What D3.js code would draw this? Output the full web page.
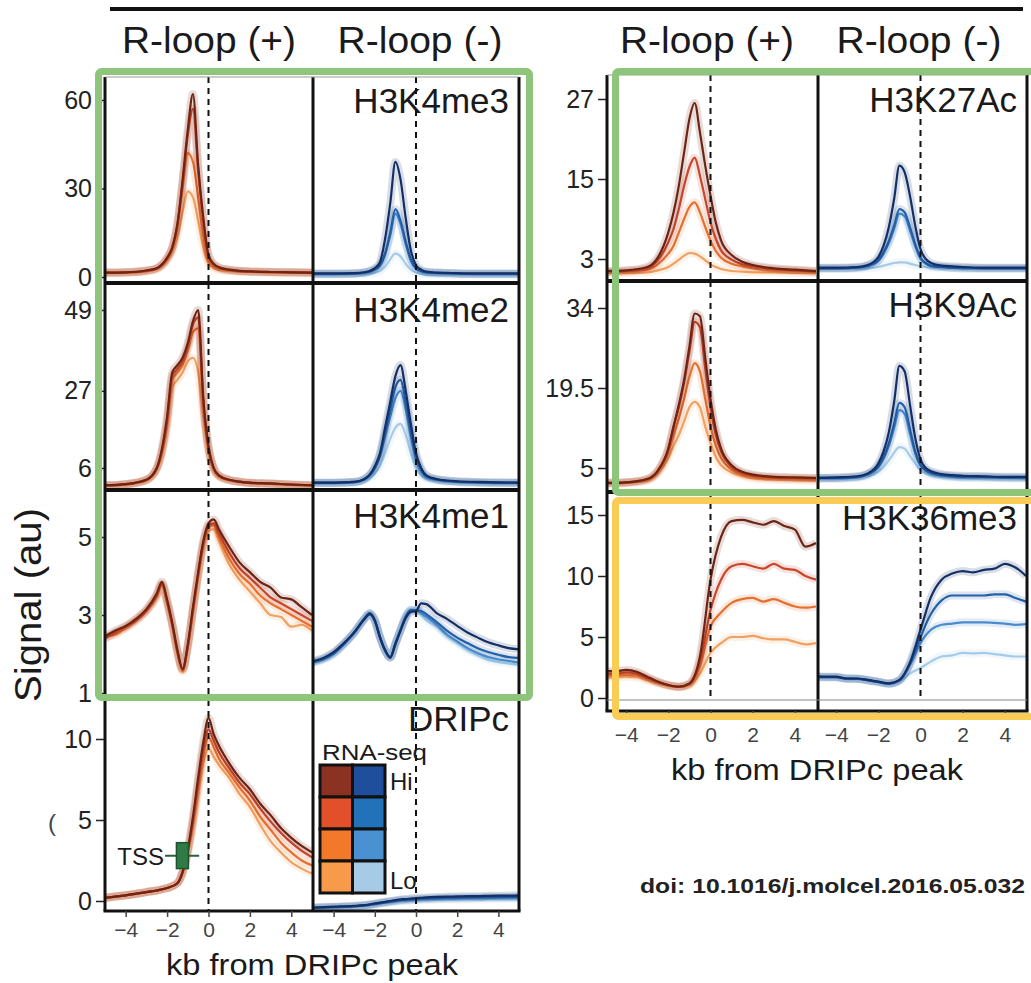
<!DOCTYPE html>
<html><head><meta charset="utf-8">
<script src="https://cdn.jsdelivr.net/npm/d3@7"></script>
<style>
body{margin:0;background:#fff;}
svg{display:block;}
text{font-family:"Liberation Sans",Arial,Helvetica,sans-serif;}
</style>
</head><body>
<svg id="chart" width="1031" height="983"></svg>
<script>
// ---------------- DATA ----------------
const kbPeak = [-5,-4,-3,-2.5,-2,-1.75,-1.5,-1.25,-1,-0.75,-0.5,-0.25,0,0.25,0.5,1,1.5,2,3,4,5];
const kbMe1  = [-5,-4.5,-4,-3.5,-3,-2.5,-2.25,-2,-1.75,-1.5,-1.25,-1,-0.75,-0.5,-0.25,0,0.25,0.5,1,1.5,2,2.5,3,3.5,4,4.5,5];
const kbDrip = [-5,-4,-3,-2.5,-2,-1.5,-1.25,-1,-0.75,-0.5,-0.25,0,0.25,0.5,1,1.5,2,2.5,3,3.5,4,4.5,5];
const kbK36  = [-5,-4.5,-4,-3.5,-3,-2.5,-2,-1.5,-1,-0.5,0,0.5,1,1.5,2,2.5,3,3.5,4,4.5,5];

const xTicks = [-4,-2,0,2,4];
const rnaLevels = ["Hi","","","Lo"];

// series order: RNA-seq Hi -> Lo
const h3k4me3Pos = [
 [1.5,1.6,2.2,3,6.5,10,18,33,50,62,38,20,7.5,4.5,3.3,2.5,2.1,1.9,1.7,1.6,1.5],
 [1.5,1.6,2.2,3,6.5,10,18,32,48,57,36,19,7,4.3,3.2,2.4,2,1.9,1.7,1.6,1.5],
 [1.4,1.5,2,2.8,6,9.5,17,30,42,39,27,14,5.5,3.6,2.8,2.2,1.9,1.8,1.6,1.5,1.4],
 [1.3,1.4,1.9,2.6,5.5,8.5,14,22,29,27,19,10,4.5,3,2.4,2,1.8,1.7,1.5,1.4,1.3]];
const h3k4me3Neg = [
 [1.2,1.2,1.3,1.6,3,5,13,25,39,33,20,9,4,2.5,1.8,1.5,1.4,1.3,1.2,1.2,1.2],
 [1.1,1.1,1.2,1.5,2.6,4,8,15,23,19,12,6,3,2,1.6,1.4,1.3,1.2,1.1,1.1,1.1],
 [1,1,1.1,1.4,2.4,3.8,7.5,14,21.5,18,11,5.5,2.8,1.9,1.5,1.3,1.2,1.1,1,1,1],
 [0.8,0.8,0.9,1,1.5,2,3.5,6,8,7,4.5,2.5,1.5,1.1,0.9,0.8,0.8,0.8,0.8,0.8,0.8]];
const h3k4me2Pos = [
 [1.3,1.6,2.8,6,20,32,34,36,40,46,49,25,12,6,4,2.8,2.3,2,1.8,1.5,1.3],
 [1.3,1.6,2.8,6,19,31,33,35,39,45,47,24,11.5,6,4,2.8,2.3,2,1.8,1.5,1.3],
 [1.2,1.5,2.7,5.8,18,30,32,34,38,43,44,23,11,5.7,3.8,2.7,2.2,1.9,1.7,1.4,1.2],
 [1.2,1.5,2.6,5.5,17,28,30,32,35,36,32,20,10,5.3,3.6,2.6,2.1,1.9,1.7,1.4,1.2]];
const h3k4me2Neg = [
 [2,2,2.2,3,6.5,10,17,24,31,34,27,18,10,6,4,3,2.6,2.4,2.2,2.1,2],
 [2,2,2.2,3,6,9.5,15.5,22,28,30,24,16,9,5.5,3.8,2.9,2.5,2.3,2.1,2,2],
 [1.9,1.9,2.1,2.9,5.8,9,14.5,20,25,27,22,14.5,8,5,3.5,2.8,2.4,2.2,2,1.9,1.9],
 [1.8,1.8,2,2.6,4.5,6.5,10,14,17,18,15,10,6,4,3,2.5,2.2,2,1.9,1.8,1.8]];
const h3k4me1Pos = [
 [2.45,2.6,2.72,2.9,3.15,3.55,3.85,3.4,2.8,2.1,1.62,2.25,3.2,4.1,4.9,5.35,5.45,5.2,4.75,4.35,4.1,3.85,3.7,3.45,3.4,3.2,3.0],
 [2.4,2.55,2.7,2.85,3.1,3.5,3.8,3.35,2.75,2.05,1.6,2.2,3.15,4.05,4.85,5.3,5.35,5.1,4.6,4.2,3.95,3.7,3.45,3.3,3.15,3.0,2.85],
 [2.45,2.5,2.68,2.9,3.12,3.5,3.78,3.3,2.75,2.05,1.58,2.2,3.1,4.0,4.8,5.25,5.3,5.0,4.45,4.05,3.8,3.5,3.3,3.15,3.0,2.85,2.7],
 [2.4,2.55,2.65,2.85,3.1,3.45,3.75,3.3,2.7,2.0,1.55,2.15,3.05,3.95,4.7,5.15,5.2,4.9,4.3,3.9,3.6,3.3,3.0,2.95,2.7,2.75,2.6]];
const h3k4me1Neg = [
 [1.82,1.9,2.05,2.28,2.55,2.9,3.02,2.85,2.42,2.1,1.9,2.25,2.6,2.92,3.08,3.1,3.3,3.28,3.05,2.9,2.72,2.55,2.42,2.3,2.22,2.15,2.12],
 [1.8,1.88,2.02,2.26,2.56,2.92,3.05,2.88,2.45,2.1,1.92,2.26,2.62,2.95,3.12,3.12,3.1,3.02,2.82,2.6,2.42,2.28,2.15,2.05,1.98,1.92,1.9],
 [1.78,1.86,2.0,2.25,2.55,2.9,3.05,2.86,2.44,2.08,1.92,2.28,2.62,2.96,3.13,3.12,3.05,2.95,2.75,2.5,2.32,2.15,2.02,1.92,1.86,1.82,1.78],
 [1.8,1.85,2.0,2.24,2.52,2.88,3.0,2.84,2.42,2.08,1.94,2.3,2.64,2.98,3.14,3.13,3.0,2.87,2.7,2.45,2.28,2.1,1.97,1.85,1.8,1.76,1.72]];
const dripcPos = [
 [0.2,0.35,0.55,0.65,0.8,1.1,1.8,3.2,5.2,7.6,9.8,11.3,10.3,9.6,8.5,7.6,6.9,6.0,5.3,4.5,3.9,3.4,3.0],
 [0.2,0.35,0.55,0.65,0.8,1.1,1.8,3.1,5.0,7.3,9.4,10.6,9.9,9.2,8.2,7.3,6.6,5.7,4.9,4.2,3.6,3.1,2.7],
 [0.2,0.35,0.55,0.65,0.8,1.1,1.8,3.0,4.8,7.0,9.0,10.1,9.5,8.8,7.9,7.0,6.2,5.2,4.4,3.6,3.0,2.5,2.2],
 [0.2,0.35,0.55,0.65,0.8,1.1,1.7,2.9,4.6,6.6,8.5,9.4,8.9,8.4,7.6,6.6,5.8,4.7,3.7,3.0,2.4,2.0,1.7]];
const dripcNeg = [
 [-0.4,-0.35,-0.3,-0.25,-0.15,-0.05,0,0.05,0.1,0.12,0.15,0.18,0.2,0.22,0.25,0.27,0.28,0.3,0.3,0.32,0.33,0.33,0.35],
 [-0.42,-0.37,-0.32,-0.27,-0.18,-0.08,-0.03,0.02,0.06,0.08,0.1,0.12,0.14,0.16,0.18,0.2,0.21,0.22,0.23,0.24,0.25,0.25,0.26],
 [-0.44,-0.39,-0.34,-0.29,-0.2,-0.1,-0.06,-0.02,0.02,0.04,0.06,0.08,0.1,0.12,0.13,0.15,0.16,0.17,0.18,0.18,0.19,0.2,0.2],
 [-0.45,-0.41,-0.36,-0.31,-0.23,-0.14,-0.1,-0.06,-0.03,-0.01,0.01,0.03,0.05,0.06,0.07,0.08,0.09,0.1,0.1,0.11,0.12,0.12,0.12]];
const h3k27acPos = [
 [1.2,1.3,1.8,3.2,7,10,14,19,24,26.4,22,17,12.5,8.5,5.8,3.6,2.6,2.1,1.6,1.4,1.2],
 [1.1,1.2,1.6,2.8,5.5,7.5,10.5,14,16.8,18.2,15.5,12,8.5,6,4.3,2.9,2.2,1.9,1.5,1.3,1.1],
 [1,1.1,1.4,2.2,3.8,5,7,9,10.8,11.5,10,7.8,5.8,4.2,3.2,2.3,1.9,1.6,1.3,1.2,1],
 [0.9,0.9,1,1.3,1.8,2.3,2.9,3.5,3.9,3.8,3.4,2.8,2.2,1.8,1.5,1.2,1.1,1,1,0.9,0.9]];
const h3k27acNeg = [
 [1.7,1.7,1.8,2.1,3.3,5,7.8,12,17,16,12.5,8,4.5,3,2.4,2,1.9,1.8,1.7,1.7,1.7],
 [1.6,1.6,1.7,2,2.8,4,5.7,8,10.5,10,7.8,5.2,3.2,2.4,2,1.8,1.7,1.7,1.6,1.6,1.6],
 [1.6,1.6,1.7,1.9,2.7,3.8,5.4,7.5,9.8,9.4,7.3,4.9,3,2.3,1.9,1.8,1.7,1.6,1.6,1.6,1.6],
 [1.5,1.5,1.5,1.6,1.8,2,2.2,2.4,2.5,2.5,2.3,2.1,1.9,1.8,1.7,1.6,1.6,1.5,1.5,1.5,1.5]];
const h3k9acPos = [
 [2.3,2.4,3,4.5,8.5,12.5,16.5,21,27,33,32.5,25,17.5,12,8.5,5.5,4.3,3.8,3.4,3.3,3.2],
 [2.3,2.4,3,4.5,8.5,12.5,16,20.5,26,31.5,30.5,23,16,11,8,5.2,4.1,3.6,3.3,3.2,3.1],
 [2.2,2.3,2.8,4.2,7.8,11,14,17.5,21.5,24,22.5,17.5,12.5,9,6.8,4.7,3.8,3.4,3.1,3,2.9],
 [2.2,2.3,2.7,4,6.8,9,11,13.5,16,17,16,12.5,9.5,7,5.5,4.2,3.5,3.1,2.9,2.8,2.7]];
const h3k9acNeg = [
 [3.2,3.3,3.5,4,5.8,8,11.5,17,23.5,22.5,16.5,10.5,6.5,5,4.4,3.9,3.7,3.6,3.5,3.4,3.4],
 [3.2,3.2,3.4,3.9,5.3,7,9.5,13,16.8,16,12,8,5.6,4.6,4.1,3.7,3.5,3.4,3.4,3.3,3.3],
 [3.1,3.1,3.3,3.8,5.1,6.7,9,12.2,15.5,14.8,11.2,7.6,5.4,4.5,4,3.6,3.4,3.3,3.3,3.2,3.2],
 [3,3,3.2,3.5,4.3,5.2,6.4,7.8,8.8,8.5,7.2,5.8,4.6,4,3.7,3.4,3.3,3.2,3.1,3.1,3]];
const h3k36me3Pos = [
 [2.2,2.2,2.3,2.15,1.75,1.35,1.07,0.93,1.2,3.4,9.7,13.2,14.5,14.6,14.4,14.2,14.5,14.1,13.8,12.4,12.7],
 [2.0,2.0,2.1,2.0,1.65,1.3,1.05,0.92,1.15,3.0,7.2,9.7,10.8,11,10.8,10.6,11,10.6,10.5,10,9.7],
 [1.8,1.85,1.9,1.85,1.55,1.25,1.02,0.9,1.1,2.6,5.85,7.0,7.8,8.1,8.2,7.9,8.1,7.8,7.5,7.4,7.5],
 [1.65,1.7,1.75,1.7,1.45,1.2,1.0,0.9,1.05,2.0,3.7,4.5,5.0,5.0,5.1,4.9,4.8,4.8,4.6,4.4,4.5]];
const h3k36me3Neg = [
 [1.8,1.75,1.75,1.6,1.6,1.48,1.34,1.2,1.48,2.9,5.6,8.3,9.7,10.2,10.4,10.3,10.5,10.6,11,10.7,10],
 [1.75,1.72,1.72,1.6,1.58,1.46,1.32,1.18,1.45,2.8,5.0,6.9,8.0,8.4,8.4,8.4,8.4,8.5,8.5,8.2,7.9],
 [1.7,1.7,1.7,1.58,1.56,1.45,1.3,1.16,1.42,2.7,4.5,5.6,6.0,6.1,6.2,6.2,6.2,6.15,6.1,6.0,6.05],
 [1.65,1.65,1.65,1.55,1.55,1.44,1.3,1.15,1.35,2.0,2.46,3.0,3.4,3.5,3.7,3.65,3.7,3.6,3.5,3.4,3.4]];

const ticksK4me3 = [0,30,60];
const ticksK4me2 = [6,27,49];
const ticksK4me1 = [1,3,5];
const ticksDripc = [0,5,10];
const ticksK27ac = [3,15,27];
const ticksK9ac  = [5,19.5,34];
const ticksK36   = [0,5,10,15];

// TSS annotation (kb, signal)
const tssWhisker = [-2.1,-0.45];
const tssBox = [-1.55,-0.97];
const tssSignal = 2.8;
const tssBoxSignal = [2.0,3.6];

// ---------------- STYLE / LAYOUT ----------------
const colorsPos = ["#6e2414","#c8462a","#e5702d","#f0a060"];
const colorsNeg = ["#142f66","#2460a8","#4a8ccb","#a5cbe8"];
const legendPos = ["#8b3222","#e2502b","#f2782a","#f79a4a"];
const legendNeg = ["#1f4e9c","#2272ba","#4a91d1","#a6cbe6"];

const blocks = [
  {xPos:[105,312], xNeg:[313,519], bPos:[105,313], bNeg:[313,519], axisX:105,
   rows:[{top:77,bottom:283,range:[277,100]},{top:283,bottom:490,range:[468,310]},
         {top:490,bottom:697,range:[693,537]},{top:700,bottom:911,range:[901,739]}],
   xAxisY:911, tickSize:6, tickPad:5, frameTop:77, frameBottom:911, seps:[283,490,697],
   headerY:53, headers:[[209,"R-loop (+)",174],[420,"R-loop (-)",165]],
   titleX:312, titleY:975},
  {xPos:[605,816], xNeg:[815,1026], bPos:[607,818], bNeg:[818,1027], axisX:607,
   rows:[{top:75,bottom:281,range:[259,99]},{top:281,bottom:492,range:[468,308]},
         {top:492,bottom:700,range:[698,515]}],
   xAxisY:711, tickSize:8, tickPad:8, frameTop:75, frameBottom:711, seps:[281,492],
   headerY:53, headers:[[707,"R-loop (+)",174],[919,"R-loop (-)",165]],
   titleX:817, titleY:780}
];

const panels = [
  {mark:"H3K4me3", block:0,row:0, kb:kbPeak, pos:h3k4me3Pos, neg:h3k4me3Neg, ticks:ticksK4me3, labelY:113},
  {mark:"H3K4me2", block:0,row:1, kb:kbPeak, pos:h3k4me2Pos, neg:h3k4me2Neg, ticks:ticksK4me2, labelY:322},
  {mark:"H3K4me1", block:0,row:2, kb:kbMe1,  pos:h3k4me1Pos, neg:h3k4me1Neg, ticks:ticksK4me1, labelY:528},
  {mark:"DRIPc",   block:0,row:3, kb:kbDrip, pos:dripcPos,   neg:dripcNeg,   ticks:ticksDripc, labelY:731},
  {mark:"H3K27Ac", block:1,row:0, kb:kbPeak, pos:h3k27acPos, neg:h3k27acNeg, ticks:ticksK27ac, labelY:112},
  {mark:"H3K9Ac",  block:1,row:1, kb:kbPeak, pos:h3k9acPos,  neg:h3k9acNeg,  ticks:ticksK9ac,  labelY:317},
  {mark:"H3K36me3",block:1,row:2, kb:kbK36,  pos:h3k36me3Pos,neg:h3k36me3Neg,ticks:ticksK36,   labelY:530}
];

const svg = d3.select("#chart");
const defs = svg.append("defs");
const gData = svg.append("g");
const gLabels = svg.append("g");
const gDash = svg.append("g");
const gFrame = svg.append("g");
const gAxes = svg.append("g");
const gBoxes = svg.append("g");
const gTop = svg.append("g");

const fmtMinus = d => d < 0 ? "\u2212" + Math.abs(d) : String(d);

let clipId = 0;
function drawSeries(kb, series, x, y, bounds, row, colors){
  const id = "clip" + (clipId++);
  defs.append("clipPath").attr("id", id).append("rect")
    .attr("x", bounds[0]).attr("y", row.top)
    .attr("width", bounds[1]-bounds[0]).attr("height", row.bottom-row.top);
  const g = gData.append("g").attr("clip-path", `url(#${id})`);
  const line = d3.line().x(d => x(d[0])).y(d => y(d[1])).curve(d3.curveMonotoneX);
  for (let i = series.length-1; i >= 0; i--){
    const pts = kb.map((k,j) => [k, series[i][j]]);
    g.append("path").attr("d", line(pts)).attr("fill","none")
      .attr("stroke", colors[i]).attr("stroke-width", 8).attr("stroke-opacity", 0.16)
      .attr("stroke-linejoin","round");
    g.append("path").attr("d", line(pts)).attr("fill","none")
      .attr("stroke", colors[i]).attr("stroke-width", 2.2).attr("stroke-linejoin","round");
  }
  gDash.append("line").attr("x1", x(0)).attr("x2", x(0))
    .attr("y1", row.top).attr("y2", row.bottom)
    .attr("stroke","#111").attr("stroke-width",2).attr("stroke-dasharray","6,5");
}

const yScales = {};
panels.forEach(p => {
  const b = blocks[p.block], row = b.rows[p.row];
  const y = d3.scaleLinear().domain(d3.extent(p.ticks)).range(row.range);
  const xP = d3.scaleLinear().domain([-5,5]).range(b.xPos);
  const xN = d3.scaleLinear().domain([-5,5]).range(b.xNeg);
  yScales[p.mark] = {y, xP, xN};
  drawSeries(p.kb, p.pos, xP, y, b.bPos, row, colorsPos);
  drawSeries(p.kb, p.neg, xN, y, b.bNeg, row, colorsNeg);
  const ax = gAxes.append("g").attr("transform", `translate(${b.axisX-1},0)`)
    .call(d3.axisLeft(y).tickValues(p.ticks).tickSize(8).tickPadding(4).tickFormat(d => d));
  ax.select(".domain").remove();
  ax.selectAll("line").attr("stroke","#222").attr("stroke-width",1.5);
  ax.selectAll("text").attr("font-size",25).attr("fill","#222")
    .style("font-family","'Liberation Sans',Arial,sans-serif");
  gLabels.append("text").attr("x", b.bNeg[1]-10).attr("y", p.labelY)
    .attr("text-anchor","end").attr("font-size",35).attr("fill","#1a1a1a").text(p.mark);
});

blocks.forEach(b => {
  const vx = [b.bPos[0], b.bPos[1], b.bNeg[1]];
  vx.forEach(xv => gFrame.append("line").attr("x1",xv).attr("x2",xv)
    .attr("y1",b.frameTop).attr("y2",b.frameBottom).attr("stroke","#111").attr("stroke-width",3));
  gFrame.append("line").attr("x1",b.bPos[0]).attr("x2",b.bNeg[1])
    .attr("y1",b.frameTop).attr("y2",b.frameTop).attr("stroke","#999").attr("stroke-width",1);
  b.seps.forEach(sy => gFrame.append("line").attr("x1",b.bPos[0]).attr("x2",b.bNeg[1])
    .attr("y1",sy).attr("y2",sy).attr("stroke","#111").attr("stroke-width",4));
  gFrame.append("line").attr("x1",b.bPos[0]-1.5).attr("x2",b.bNeg[1]+1.5)
    .attr("y1",b.xAxisY).attr("y2",b.xAxisY).attr("stroke","#111").attr("stroke-width",3);
  [b.xPos, b.xNeg].forEach(r => {
    const x = d3.scaleLinear().domain([-5,5]).range(r);
    const ax = gAxes.append("g").attr("transform",`translate(0,${b.xAxisY})`)
      .call(d3.axisBottom(x).tickValues(xTicks).tickSize(b.tickSize).tickPadding(b.tickPad).tickFormat(fmtMinus));
    ax.select(".domain").remove();
    ax.selectAll("line").attr("stroke","#444").attr("stroke-width",1.5);
    ax.selectAll("text").attr("font-size",21).attr("fill","#444")
      .style("font-family","'Liberation Sans',Arial,sans-serif");
  });
  b.headers.forEach(h => gTop.append("text").attr("x",h[0]).attr("y",b.headerY)
    .attr("text-anchor","middle").attr("font-size",37).attr("fill","#1a1a1a")
    .attr("textLength",h[2]).attr("lengthAdjust","spacingAndGlyphs").text(h[1]));
  gTop.append("text").attr("x",b.titleX).attr("y",b.titleY).attr("text-anchor","middle")
    .attr("font-size",30).attr("fill","#1a1a1a")
    .attr("textLength",292).attr("lengthAdjust","spacingAndGlyphs").text("kb from DRIPc peak");
});
gFrame.append("line").attr("x1",607).attr("x2",1027).attr("y1",700).attr("y2",700)
  .attr("stroke","#888").attr("stroke-width",1.2);

gTop.append("line").attr("x1",110).attr("x2",1023).attr("y1",9).attr("y2",9)
  .attr("stroke","#111").attr("stroke-width",4);

gBoxes.append("rect").attr("x",98.5).attr("y",71.5).attr("width",431).attr("height",626)
  .attr("rx",3).attr("fill","none").attr("stroke","#8dc57a").attr("stroke-width",7);
gBoxes.append("rect").attr("x",615.5).attr("y",71.5).attr("width",430).attr("height",421)
  .attr("rx",3).attr("fill","none").attr("stroke","#8dc57a").attr("stroke-width",7);
gBoxes.append("rect").attr("x",615.5).attr("y",500.5).attr("width",430).attr("height",216)
  .attr("rx",3).attr("fill","none").attr("stroke","#f9cc55").attr("stroke-width",7);

gTop.append("text").attr("transform","translate(41,605) rotate(-90)")
  .attr("text-anchor","middle").attr("font-size",37).attr("fill","#1a1a1a")
  .attr("textLength",194).attr("lengthAdjust","spacingAndGlyphs").text("Signal (au)");
gTop.append("text").attr("x",48).attr("y",831).attr("font-size",24).attr("fill","#444").text("(");

{
  const s = yScales["DRIPc"];
  gTop.append("line").attr("x1",s.xP(tssWhisker[0])).attr("x2",s.xP(tssWhisker[1]))
    .attr("y1",s.y(tssSignal)).attr("y2",s.y(tssSignal)).attr("stroke","#2d5e3a").attr("stroke-width",2);
  gTop.append("rect").attr("x",s.xP(tssBox[0])).attr("y",s.y(tssBoxSignal[1]))
    .attr("width",s.xP(tssBox[1])-s.xP(tssBox[0])).attr("height",s.y(tssBoxSignal[0])-s.y(tssBoxSignal[1]))
    .attr("fill","#2f7a45").attr("stroke","#1e5530").attr("stroke-width",1.5);
  gTop.append("text").attr("x",s.xP(tssWhisker[0])-1).attr("y",s.y(tssSignal)+9)
    .attr("text-anchor","end").attr("font-size",24).attr("fill","#1a1a1a").text("TSS");
}

{
  const lx = 320, ly = 765, cw = 32.5, ch = 32;
  const lg = gTop.append("g");
  lg.append("text").attr("x",lx+2).attr("y",ly-5).attr("font-size",22).attr("fill","#1a1a1a")
    .attr("textLength",105).attr("lengthAdjust","spacingAndGlyphs").text("RNA-seq");
  [legendPos, legendNeg].forEach((cols, c) => cols.forEach((col, r) => {
    lg.append("rect").attr("x",lx + c*cw).attr("y",ly + r*ch).attr("width",cw).attr("height",ch)
      .attr("fill",col).attr("stroke","#111").attr("stroke-width",3);
  }));
  rnaLevels.forEach((t, r) => { if (t) lg.append("text").attr("x",lx+2*cw+5)
    .attr("y", r === 0 ? ly+25 : ly+r*ch+28).attr("font-size",24).attr("fill","#1a1a1a").text(t); });
}

gTop.append("text").attr("x",640).attr("y",893).attr("font-size",21).attr("font-weight","bold")
  .attr("fill","#222").attr("textLength",385).attr("lengthAdjust","spacingAndGlyphs")
  .text("doi: 10.1016/j.molcel.2016.05.032");
</script>
</body></html>
